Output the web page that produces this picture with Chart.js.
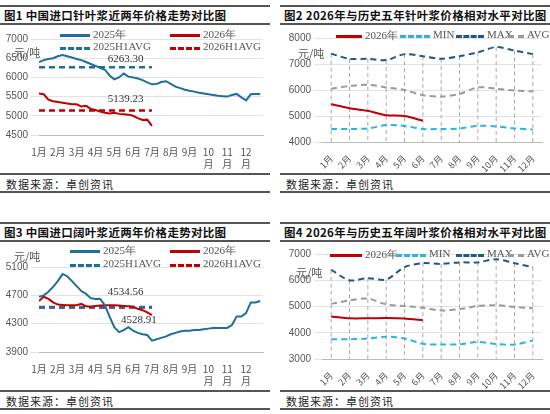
<!DOCTYPE html>
<html><head><meta charset="utf-8">
<script src="https://cdn.jsdelivr.net/npm/chart.js@4"></script>
<style>
body{margin:0;width:550px;height:414px;background:#fff;position:relative;overflow:hidden;font-family:"Noto Sans CJK SC",sans-serif}
.hl{position:absolute;height:0;border-top:2px solid #555}
.title{position:absolute;font-size:11.5px;font-weight:bold;color:#111;white-space:nowrap;letter-spacing:0.3px}
.src{position:absolute;font-size:11px;color:#222;letter-spacing:1px}
.lg{position:absolute;font-family:"Liberation Serif",serif;font-size:11px;color:#555;white-space:nowrap}
.sw{position:absolute;height:0}
.unit{position:absolute;font-size:11px;color:#555}
canvas{position:absolute}
</style></head><body>
<script>
// ---------- DATA ----------
const monthLabels=['1月','2月','3月','4月','5月','6月','7月','8月','9月','10月','11月','12月'];
// Panel 1: imported softwood pulp, weekly samples (x = week/4 months)
const sw2025=[6400,6450,6480,6500,6550,6580,6550,6520,6480,6450,6400,6350,6300,6250,6200,6050,5950,6000,6100,6020,6000,5970,5930,5870,5820,5830,5880,5900,5830,5760,5720,5680,5650,5630,5600,5580,5560,5540,5520,5510,5500,5540,5570,5480,5400,5560,5570,5570];
const sw2026=[5580,5560,5420,5380,5360,5340,5320,5300,5300,5240,5260,5180,5150,5110,5080,5060,5080,5050,5040,5030,5000,4940,4890,4900,4740];
const swAvg2025=6263.30, swAvg2026=5139.23;
// Panel 3: imported hardwood pulp
const hw2025=[4680,4700,4750,4820,4900,5000,4970,4900,4830,4760,4720,4660,4650,4650,4560,4400,4250,4180,4210,4250,4200,4170,4150,4140,4060,4080,4100,4120,4150,4170,4190,4200,4200,4210,4210,4220,4230,4240,4240,4240,4240,4280,4400,4400,4450,4600,4600,4620];
const hw2026=[4620,4680,4650,4600,4570,4565,4560,4560,4560,4580,4545,4540,4550,4555,4560,4560,4560,4555,4550,4545,4540,4510,4490,4460,4420];
const hwAvg2025=4534.56, hwAvg2026=4528.91;
// Panel 2: softwood 5-year comparison
const swMin=[4500,4500,4520,4650,4620,4500,4500,4520,4620,4600,4520,4480];
const swMax=[7400,7200,7200,7150,7380,7300,7200,7300,7450,7650,7520,7380];
const swAvg=[6050,6150,6200,6100,6000,5800,5750,5850,6100,6050,5980,5950];
const sw2026m=[5450,5300,5200,5030,5000,4820];
// Panel 4: hardwood 5-year comparison
const hwMin=[3750,3750,3780,3850,3780,3580,3550,3560,3650,3570,3550,3700];
const hwMax=[6400,6000,6080,6030,6500,6650,6620,6680,6680,6800,6650,6500];
const hwAvg=[5100,5230,5300,5080,5020,4950,4850,4900,5020,5050,4980,4930];
const hw2026m=[4620,4550,4550,4560,4540,4480];

const BLUE='#1f6e9c',RED='#c00000',LBLUE='#2bb3e8',DBLUE='#1d5a86',GRAY='#9a9a9a';
const tickFont={family:'"Liberation Sans",sans-serif',size:10};
const toPts=a=>a.map((v,i)=>({x:i/4,y:v}));
const flat=(v)=>[{x:0,y:v},{x:6,y:v}];

function el(cls,css,html){const d=document.createElement('div');d.className=cls;Object.assign(d.style,css);if(html!==undefined)d.innerHTML=html;document.body.appendChild(d);return d;}
function frame(x0,y0,title){
  el('hl',{left:x0+'px',top:y0+'px',width:'270px'});
  el('title',{left:(x0+4)+'px',top:(y0+2)+'px'},title);
  el('hl',{left:x0+'px',top:(y0+18)+'px',width:'270px'});
  el('hl',{left:x0+'px',top:(y0+168)+'px',width:'270px'});
  el('src',{left:(x0+6)+'px',top:(y0+171)+'px'},'数据来源：卓创资讯');
  el('hl',{left:x0+'px',top:(y0+186)+'px',width:'270px'});
}
function legItem(x,y,w,color,dashed,text){
  el('sw',{left:x+'px',top:y+'px',width:w+'px',borderTop:'3px '+(dashed?'dashed ':'solid ')+color});
  el('lg',{left:(x+w+3)+'px',top:(y-7)+'px'},text);
}
function mkCanvas(x,y,w,h){const c=document.createElement('canvas');c.width=w;c.height=h;c.style.left=x+'px';c.style.top=y+'px';c.style.width=w+'px';c.style.height=h+'px';document.body.appendChild(c);return c;}

const labelPlugin={id:'avgLabels',afterDatasetsDraw(ch){const l=ch.options.plugins.avgLabels;if(!l||!l.items)return;const c=ch.ctx;c.save();c.font='11px "Liberation Serif",serif';c.fillStyle='#333';c.textAlign='center';
  l.items.forEach(it=>{c.fillText(it.t,ch.scales.x.getPixelForValue(it.x),ch.scales.y.getPixelForValue(it.y)+it.dy);});c.restore();}};
const dropPlugin={id:'drop',beforeDatasetsDraw(ch){const o=ch.options.plugins.drop;if(!o||!o.on)return;const meta=ch.getDatasetMeta(o.idx);const c=ch.ctx;c.save();c.strokeStyle='#aaa';c.lineWidth=1;c.setLineDash([4,3]);
  meta.data.forEach(p=>{c.beginPath();c.moveTo(p.x,p.y);c.lineTo(p.x,ch.chartArea.bottom);c.stroke();});c.restore();}};
Chart.register(labelPlugin,dropPlugin);

function trendChart(x0,y0,d25,d26,a25,a26,ymin,ymax,step,padTop,labels){
  const cv=mkCanvas(x0,y0+20,270,148);
  new Chart(cv,{type:'line',data:{datasets:[
    {data:toPts(d25),borderColor:BLUE,borderWidth:2,pointRadius:0,tension:0},
    {data:toPts(d26),borderColor:RED,borderWidth:2,pointRadius:0,tension:0},
    {data:flat(a25),borderColor:BLUE,borderWidth:2.5,borderDash:[6,4],pointRadius:0},
    {data:flat(a26),borderColor:RED,borderWidth:2.5,borderDash:[6,4],pointRadius:0}]},
   options:{animation:false,responsive:false,layout:{padding:{top:padTop,right:7}},
    plugins:{legend:{display:false},tooltip:{enabled:false},avgLabels:{items:labels}},
    scales:{x:{type:'linear',min:0,max:11.9,grid:{display:false},border:{color:'#bbb'},
      afterFit(s){s.height=38;},
      afterBuildTicks(s){s.ticks=monthLabels.map((m,i)=>({value:i}));},
      ticks:{autoSkip:false,maxRotation:0,font:{family:'"Noto Sans CJK SC",sans-serif',size:10},color:'#555',
        callback:v=>v>=9?[String(v+1),'月']:monthLabels[v]}},
     y:{min:ymin,max:ymax,grid:{color:'#e3e3e3'},border:{display:false},afterFit(s){s.width=39;},
      ticks:{stepSize:step,font:tickFont,color:'#555',callback:v=>String(v)}}}}});
}
function cmpChart(x0,y0,mn,mx,av,cur,ymin,ymax,padTop){
  const cv=mkCanvas(x0,y0+20,270,148);
  new Chart(cv,{type:'line',data:{labels:monthLabels,datasets:[
    {data:cur,borderColor:RED,borderWidth:2,pointRadius:0,tension:0.2},
    {data:mn,borderColor:LBLUE,borderWidth:2,borderDash:[6,4],pointRadius:0,tension:0.3},
    {data:mx,borderColor:DBLUE,borderWidth:2,borderDash:[6,4],pointRadius:0,tension:0.3},
    {data:av,borderColor:GRAY,borderWidth:2,borderDash:[6,4],pointRadius:0,tension:0.3}]},
   options:{animation:false,responsive:false,layout:{padding:{top:padTop,right:8}},
    plugins:{legend:{display:false},tooltip:{enabled:false},drop:{on:true,idx:2}},
    scales:{x:{offset:true,grid:{display:false},border:{color:'#bbb'},afterFit(s){s.height=31;},
      ticks:{autoSkip:false,maxRotation:45,minRotation:45,font:{family:'"Noto Sans CJK SC",sans-serif',size:9},color:'#555'}},
     y:{min:ymin,max:ymax,grid:{color:'#e3e3e3'},border:{display:false},afterFit(s){s.width=42;},
      ticks:{stepSize:1000,font:tickFont,color:'#555',callback:v=>String(v)}}}}});
}

// Panel 1
frame(0,5,'图1 中国进口针叶浆近两年价格走势对比图');
trendChart(0,5,sw2025,sw2026,swAvg2025,swAvg2026,4500,7000,500,14,
  [{t:'6263.30',x:4.6,y:swAvg2025,dy:-5},{t:'5139.23',x:4.6,y:swAvg2026,dy:-8}]);
legItem(60,34,30,BLUE,false,'2025年');legItem(170,34,30,RED,false,'2026年');
legItem(60,47,30,BLUE,true,'2025H1AVG');legItem(170,47,30,RED,true,'2026H1AVG');
el('unit',{left:'14px',top:'44px'},'元/吨');

// Panel 2
frame(280,5,'图2 2026年与历史五年针叶浆价格相对水平对比图');
cmpChart(280,5,swMin,swMax,swAvg,sw2026m,4000,8000,13);
legItem(336,35,26,RED,false,'2026年');legItem(400,35,30,LBLUE,true,'MIN');
legItem(456,35,28,DBLUE,true,'MAX');legItem(508,35,16,GRAY,true,'AVG');
el('unit',{left:'298px',top:'45px'},'元/吨');

// Panel 3
frame(0,222,'图3 中国进口阔叶浆近两年价格走势对比图');
trendChart(0,222,hw2025,hw2026,hwAvg2025,hwAvg2026,3900,5100,400,25,
  [{t:'4534.56',x:4.6,y:hwAvg2025,dy:-12},{t:'4528.91',x:5.3,y:hwAvg2026,dy:16}]);
legItem(70,250,30,BLUE,false,'2025年');legItem(170,250,30,RED,false,'2026年');
legItem(70,264,30,BLUE,true,'2025H1AVG');legItem(170,264,30,RED,true,'2026H1AVG');
el('unit',{left:'14px',top:'248px'},'元/吨');

// Panel 4
frame(280,222,'图4 2026年与历史五年阔叶浆价格相对水平对比图');
cmpChart(280,222,hwMin,hwMax,hwAvg,hw2026m,3000,7000,12);
legItem(330,254,32,RED,false,'2026年');legItem(396,254,30,LBLUE,true,'MIN');
legItem(456,254,28,DBLUE,true,'MAX');legItem(508,254,16,GRAY,true,'AVG');
el('unit',{left:'296px',top:'264px'},'元/吨');
</script>
</body></html>
